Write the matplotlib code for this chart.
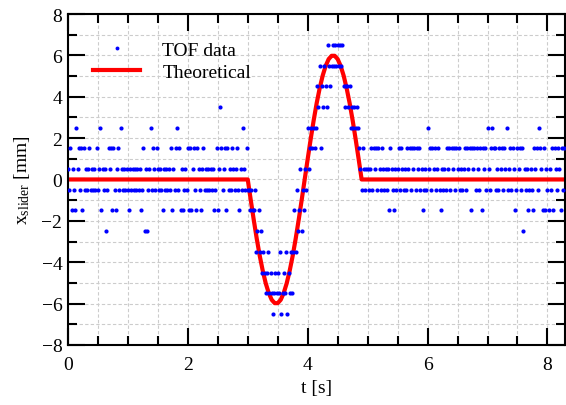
import matplotlib
matplotlib.use("Agg")
import matplotlib.pyplot as plt
import numpy as np
from matplotlib.ticker import MultipleLocator

plt.rcParams['font.family'] = ['Liberation Serif', 'DejaVu Serif']
plt.rcParams['mathtext.fontset'] = 'custom'
plt.rcParams['mathtext.rm'] = 'Liberation Serif'
plt.rcParams['mathtext.it'] = 'Liberation Serif:italic'

# TOF samples, one every dt seconds starting at t = 0 (values in mm)
dt = 0.02
tof_rest_before = [
    0.5, -0.5, 1.5, -1.5, 0.5, -0.5, -1.5, 2.5, 0.5, 1.5,
    -0.5, 1.5, -1.5, 1.5, -0.5, 0.5, -0.5, 0.5, 1.5, -0.5,
    0.5, -0.5, 0.5, -0.5, 1.5, -0.5, 0.5, 2.5, -1.5, 0.5,
    -0.5, 0.5, -2.5, -0.5, 1.5, 0.5, 1.5, -1.5, 1.5, -0.5,
    -1.5, 0.5, 1.5, -0.5, 2.5, 0.5, -0.5, 0.5, -0.5, 0.5,
    -0.5, -1.5, 0.5, -0.5, 0.5, -0.5, 0.5, -0.5, 0.5, -0.5,
    0.5, -1.5, -0.5, 1.5, -2.5, 0.5, -2.5, -0.5, 0.5, 2.5,
    -0.5, 1.5, 0.5, -0.5, 1.5, 0.5, -0.5, 0.5, -0.5, -1.5,
    0.5, -0.5, 0.5, -0.5, 0.5, -0.5, 1.5, -1.5, 0.5, -0.5,
    1.5, 2.5, -0.5, 1.5, -1.5, 0.5, -1.5, -0.5, 0.5, -0.5,
    1.5, -1.5, 1.5, -1.5, 0.5, 1.5, -0.5, -1.5, 1.5, 0.5,
    -0.5, -1.5, 0.5, 1.5, -0.5, 0.5, -0.5, 0.5, -0.5, 0.5,
    -0.5, 0.5, -1.5, -0.5, 1.5, -1.5, 0.5, 3.5, 1.5, -0.5,
    0.5, 1.5, -1.5, 1.5, -0.5, 0.5, -0.5, 1.5, 0.5, -0.5,
    0.5, 1.5, -0.5, -1.5, 0.5, -0.5, 2.5, 0.5, -0.5, 1.5,
]
tof_motion = [
    -0.5, -0.5, -1.5, -0.5, -1.5, -1.5, -0.5, -3.5, -2.5, -1.5,
    -3.5, -2.5, -4.5, -3.5, -4.5, -5.5, -4.5, -3.5, -5.5, -4.5,
    -5.5, -6.5, -5.5, -4.5, -5.5, -4.5, -5.5, -3.5, -6.5, -5.5,
    -4.5, -5.5, -3.5, -6.5, -4.5, -5.5, -3.5, -5.5, -3.5, -1.5,
    -3.5, -0.5, -2.5, -1.5, 0.5, -2.5, -0.5, -1.5, 0.5, -0.5,
    2.5, 0.5, 1.5, 2.5, 1.5, 2.5, 1.5, 2.5, 4.5, 3.5,
    5.5, 1.5, 4.5, 3.5, 5.5, 4.5, 3.5, 6.5, 5.5, 4.5,
    5.5, 6.5, 5.5, 6.5, 5.5, 6.5, 5.5, 6.5, 5.5, 6.5,
    4.5, 3.5, 4.5, 4.5, 3.5, 4.5, 2.5, 3.5, 2.5, 3.5,
    2.5, 3.5, 2.5, 1.5, 0.5, -0.5, 1.5, 0.5, -0.5, 0.5,
]
tof_rest_after = [
    0.5, -0.5, 0.5, 1.5, -0.5, 1.5, 0.5, 1.5, -0.5, 1.5,
    0.5, -0.5, 1.5, 0.5, -0.5, 0.5, -0.5, 0.5, -1.5, 1.5,
    0.5, -0.5, -1.5, 0.5, -0.5, 0.5, 1.5, -0.5, 1.5, 0.5,
    -0.5, 0.5, -0.5, 1.5, 0.5, 1.5, -0.5, 1.5, 0.5, 1.5,
    -0.5, 1.5, 0.5, 1.5, -0.5, 0.5, -1.5, -0.5, 0.5, -0.5,
    2.5, 0.5, 1.5, -0.5, 1.5, 0.5, 1.5, -0.5, 0.5, 1.5,
    -0.5, -1.5, 0.5, -0.5, 0.5, -0.5, 1.5, 0.5, 1.5, -0.5,
    1.5, 0.5, 1.5, -0.5, 1.5, 0.5, 1.5, -0.5, 0.5, -0.5,
    0.5, 1.5, -0.5, 1.5, 0.5, 1.5, -1.5, 1.5, 0.5, 1.5,
    -0.5, 1.5, 0.5, -0.5, 1.5, -1.5, 1.5, 0.5, 1.5, -0.5,
    2.5, 0.5, -0.5, 1.5, 2.5, 1.5, 1.5, -0.5, 0.5, -0.5,
    1.5, 0.5, 1.5, -0.5, 1.5, 0.5, 2.5, -0.5, 0.5, 1.5,
    -0.5, 1.5, 0.5, -1.5, -0.5, 1.5, 0.5, 1.5, -0.5, 1.5,
    -2.5, 0.5, -0.5, 0.5, -1.5, -0.5, 0.5, -0.5, -1.5, 1.5,
    0.5, 1.5, -0.5, 2.5, 1.5, 0.5, -1.5, 1.5, -1.5, 0.5,
    -0.5, -1.5, 0.5, -0.5, 1.5, -1.5, 1.5, 0.5, -0.5, 1.5,
    0.5, -1.5, 1.5, -0.5, 1.5,
]
tof_x = np.array(tof_rest_before + tof_motion + tof_rest_after)
tof_t = np.arange(len(tof_x)) * dt

# theoretical slider position, sampled every 0.05 s during the motion
theo_t = np.r_[0.0, np.arange(39) * 0.05 + 3.0, 8.3]
theo_x = [
    0.0,
    0.0, -0.99, -1.95, -2.86, -3.69, -4.41, -5.02, -5.49, -5.82, -5.98,
    -5.98, -5.82, -5.49, -5.02, -4.41, -3.69, -2.86, -1.95, -0.99, 0.0,
    0.99, 1.95, 2.86, 3.69, 4.41, 5.02, 5.49, 5.82, 5.98,
    5.98, 5.82, 5.49, 5.02, 4.41, 3.69, 2.86, 1.95, 0.99, 0.0,
    0.0,
]

fig = plt.figure(figsize=(5.66, 4.06), dpi=100)
ax = fig.add_axes([0.120, 0.148, 0.879, 0.815])

line, = ax.plot(theo_t, theo_x, color='red', lw=3, zorder=2, label='Theoretical')
pts, = ax.plot(tof_t, tof_x, 'o', color='blue', ms=3.0, mew=0, zorder=3,
               label='TOF data')

ax.set_xlim(0, 8.3)
ax.set_ylim(-8, 8)
ax.xaxis.set_major_locator(MultipleLocator(2))
ax.xaxis.set_minor_locator(MultipleLocator(0.5))
ax.yaxis.set_major_locator(MultipleLocator(2))
ax.yaxis.set_minor_locator(MultipleLocator(1))

ax.grid(which='both', color='#cccccc', ls=(0, (3, 2)), lw=0.8)
ax.set_axisbelow(True)
ax.tick_params(which='both', direction='in', top=True, right=True, width=1.5,
               labelsize=14)
ax.tick_params(which='major', length=12)
ax.tick_params(which='minor', length=6.5)
ax.tick_params(axis='x', pad=8)
ax.tick_params(axis='y', pad=4)
for s in ax.spines.values():
    s.set_linewidth(1.5)

ax.set_xlabel('t [s]', fontsize=14, labelpad=4)
ax.set_ylabel(r'x$_{\mathrm{slider}}$ [mm]', fontsize=14, labelpad=7)

leg = ax.legend(handles=[pts, line], loc='upper left',
                bbox_to_anchor=(0.012, 0.976), frameon=False, fontsize=14,
                numpoints=1, handlelength=2.4, handletextpad=1.15,
                labelspacing=0.2, borderaxespad=0.6)
leg.legend_handles[0].set_markersize(2.8)

fig.savefig('out.png', dpi=100)
